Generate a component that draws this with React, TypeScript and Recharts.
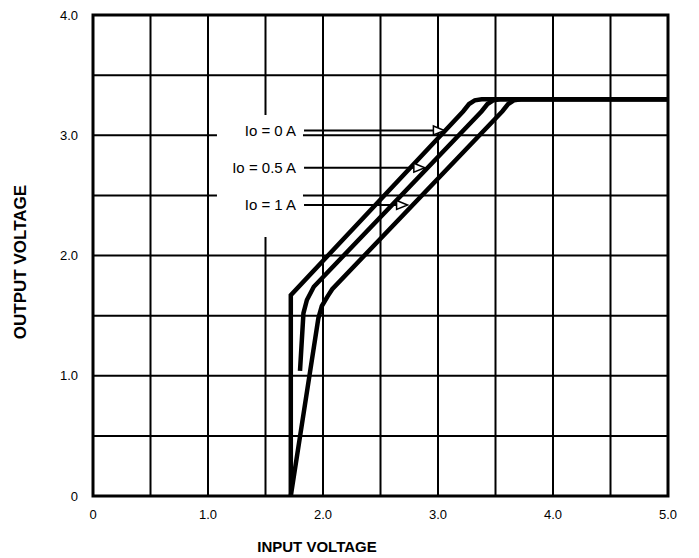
import { LineChart, Line, XAxis, YAxis, CartesianGrid, ReferenceArea } from 'recharts';

// grid every 0.5, labels only on whole volts
const xTicks = [0, 0.5, 1, 1.5, 2, 2.5, 3, 3.5, 4, 4.5, 5];
const yTicks = [0, 0.5, 1, 1.5, 2, 2.5, 3, 3.5, 4];
const xTickLabels = ['0', '1.0', '2.0', '3.0', '4.0', '5.0'];
const yTickLabels = ['0', '1.0', '2.0', '3.0', '4.0'];

// [input V, output V]
const io0A = [
  [1.72, 0], [1.72, 1.67], [3.22, 3.2], [3.27, 3.26], [3.32, 3.29], [3.38, 3.3], [5, 3.3],
];
const io05A = [
  [1.8, 1.04], [1.83, 1.52], [1.86, 1.63], [1.92, 1.74], [3.38, 3.2], [3.43, 3.26], [3.48, 3.29], [3.54, 3.3], [5, 3.3],
];
const io1A = [
  [1.72, 0], [1.96, 1.48], [1.99, 1.58], [2.04, 1.66], [2.08, 1.72], [3.56, 3.2], [3.61, 3.26], [3.66, 3.29], [3.72, 3.3], [5, 3.3],
];

// leader labels
const annotationLabels = ['Io = 0 A', 'Io = 0.5 A', 'Io = 1 A'];
const annotationY = [3.04, 2.73, 2.42];
const annotationStartX = 1.835;
const annotationEndX = [2.96, 2.79, 2.64];

// blanked area behind the labels
const labelBox = { x1: 1.078, x2: 1.826, y1: 2.154, y2: 3.168 };

const toPoints = (arr: number[][]) => arr.map(([x, y]) => ({ x, y }));

const font = 'Arial, "Liberation Sans", sans-serif';

function leaderDot(label: string) {
  return (props: any) => {
    const { cx, cy, index } = props;
    if (index === 0) {
      return (
        <text key={`t-${label}`} x={cx - 8} y={cy} dy="0.35em" textAnchor="end" fontSize={15} fill="#000" fontFamily={font}>
          {label}
        </text>
      );
    }
    return (
      <polygon
        key={`a-${label}`}
        points={`${cx},${cy - 4.5} ${cx + 11},${cy} ${cx},${cy + 4.5}`}
        fill="#fff"
        stroke="#000"
        strokeWidth={1.5}
      />
    );
  };
}

export default function App() {
  const curves = [io0A, io05A, io1A];
  return (
    <div style={{ position: 'absolute', left: 0, top: 0, width: 699, height: 558, background: '#fff', fontFamily: font }}>
      <LineChart width={699} height={558} margin={{ top: 15, right: 31, bottom: 0, left: 0 }}>
        <CartesianGrid stroke="#000" strokeWidth={2} horizontal vertical />
        <XAxis
          type="number"
          dataKey="x"
          domain={[0, 5]}
          ticks={xTicks}
          interval={0}
          height={62}
          tickLine={false}
          axisLine={false}
          tickSize={0}
          tickMargin={14}
          tick={{ fontSize: 13, fill: '#000', fontFamily: font }}
          tickFormatter={(v: number) => (Number.isInteger(v) ? xTickLabels[v] : '')}
        />
        <YAxis
          type="number"
          dataKey="y"
          domain={[0, 4]}
          ticks={yTicks}
          interval={0}
          width={93}
          tickLine={false}
          axisLine={false}
          tickSize={0}
          tickMargin={15}
          tick={{ fontSize: 13, fill: '#000', fontFamily: font }}
          tickFormatter={(v: number) => (Number.isInteger(v) ? yTickLabels[v] : '')}
        />
        <ReferenceArea {...labelBox} fill="#fff" fillOpacity={1} stroke="none" />
        <ReferenceArea x1={0} x2={5} y1={0} y2={4} fill="none" stroke="#000" strokeWidth={3} />
        {curves.map((c, i) => (
          <Line
            key={`curve-${i}`}
            data={toPoints(c)}
            dataKey="y"
            type="linear"
            stroke="#000"
            strokeWidth={4.5}
            dot={false}
            isAnimationActive={false}
          />
        ))}
        {annotationLabels.map((label, i) => (
          <Line
            key={`leader-${i}`}
            data={[{ x: annotationStartX, y: annotationY[i] }, { x: annotationEndX[i], y: annotationY[i] }]}
            dataKey="y"
            type="linear"
            stroke="#000"
            strokeWidth={2}
            dot={leaderDot(label)}
            activeDot={false}
            isAnimationActive={false}
          />
        ))}
      </LineChart>
      <div style={{ position: 'absolute', left: 317, top: 546, transform: 'translate(-50%, -50%)', fontWeight: 700, fontSize: 15, whiteSpace: 'nowrap' }}>
        INPUT VOLTAGE
      </div>
      <div style={{ position: 'absolute', left: 21, top: 262, transform: 'translate(-50%, -50%) rotate(-90deg)', fontWeight: 700, fontSize: 17, whiteSpace: 'nowrap' }}>
        OUTPUT VOLTAGE
      </div>
    </div>
  );
}
